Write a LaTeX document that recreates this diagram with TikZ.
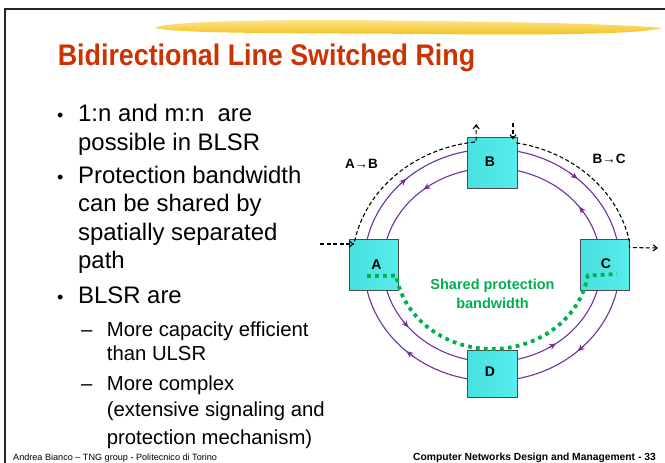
\documentclass[tikz,border=0pt]{standalone}
\usepackage{fontspec}
\setmainfont{Liberation Sans}
\newfontfamily\titlefont{Liberation Sans}[FakeStretch=0.9]
\usetikzlibrary{arrows.meta,calc}
\definecolor{titlered}{HTML}{CC3300}
\definecolor{ringpurple}{HTML}{7030A0}
\definecolor{sharegreen}{HTML}{00B050}
\definecolor{boxcyan}{HTML}{70FFFF}
\definecolor{boxdark}{HTML}{48E0E0}
\definecolor{hlight}{HTML}{FCE488}
\definecolor{hdark}{HTML}{F5BA00}
\begin{document}
\begin{tikzpicture}[x=1pt,y=-1pt,
  bodytxt/.style={anchor=base west, inner sep=0pt, font=\fontsize{23.9}{28}\selectfont},
  subtxt/.style={anchor=base west, inner sep=0pt, font=\fontsize{20.3}{24}\selectfont},
  bul/.style={anchor=base west, inner sep=0pt, font=\fontsize{18}{24}\selectfont},
  nodebox/.style={draw=black!70, line width=0.8pt, minimum width=49pt, minimum height=51pt,
    inner sep=0pt, left color=boxdark, middle color=boxcyan, right color=boxdark!60!boxcyan},
  boxlbl/.style={inner sep=0pt, font=\fontsize{14}{16}\selectfont\bfseries},
  ring/.style={draw=ringpurple, line width=1.1pt},
  rtip/.style={draw=ringpurple, line width=1.1pt, -{Stealth[length=7pt,width=6pt]}},
  dashln/.style={draw=black, line width=1.1pt, dash pattern=on 4pt off 2.5pt},
  dtip/.style={-{Straight Barb[length=4pt,width=6pt]}},
  greendot/.style={draw=sharegreen, line width=3.8pt, dash pattern=on 3.8pt off 4.2pt},
  lbl/.style={inner sep=0pt, font=\fontsize{13.5}{15}\selectfont\bfseries}
]
\useasboundingbox (0,0) rectangle (665,463);
\fill[white] (0,0) rectangle (665,463);
% frame
\draw[black!85, line width=2pt] (5,463) -- (5,9) -- (665,9);
% highlighter stroke
\shade[top color=hlight, bottom color=hdark, opacity=0.9]
  (155,28) .. controls (170,20) and (300,19) .. (430,21)
  .. controls (520,22) and (620,24) .. (662,28)
  .. controls (640,35) and (520,35) .. (430,34)
  .. controls (300,33) and (180,34) .. (155,28) -- cycle;
% title
\node[anchor=base, inner sep=0pt, text=titlered, font=\titlefont\fontsize{29.8}{32}\selectfont\bfseries] (title) at (266.5,65) {Bidirectional Line Switched Ring};
% bullets
\node[bul] (b1) at (57,121.7) {•};
\node[bodytxt] (t1) at (78,121.7) {1:n and m:n\ \ are};
\node[bodytxt] (t2) at (78,150) {possible in BLSR};
\node[bul] (b2) at (57,183.5) {•};
\node[bodytxt] (t3) at (78,183.5) {Protection bandwidth};
\node[bodytxt] (t4) at (78,211.7) {can be shared by};
\node[bodytxt] (t5) at (78,240) {spatially separated};
\node[bodytxt] (t6) at (78,268.3) {path};
\node[bul] (b3) at (57,303.3) {•};
\node[bodytxt] (t7) at (78,303.3) {BLSR are};
\node[subtxt] (d1) at (81,336) {–};
\node[subtxt] (s1) at (106.7,336) {More capacity efficient};
\node[subtxt] (s2) at (106.7,360.5) {than ULSR};
\node[subtxt] (d2) at (81,390) {–};
\node[subtxt] (s3) at (106.7,390) {More complex};
\node[subtxt] (s4) at (106.7,416.7) {(extensive signaling and};
\node[subtxt] (s5) at (106.7,444) {protection mechanism)};
% footer
\node[anchor=base west, inner sep=0pt, font=\fontsize{9.1}{10}\selectfont] (fl) at (13,460.2) {Andrea Bianco – TNG group - Politecnico di Torino};
\node[anchor=base east, inner sep=0pt, font=\fontsize{10.3}{11}\selectfont\bfseries] (fr) at (656,460.2) {Computer Networks Design and Management - 33};
% rings
\draw[ring] plot[domain=0:360, samples=181] ({492+128*cos(\x)},{265+116*sin(\x)}) -- cycle;
\draw[ring] plot[domain=0:360, samples=181] ({492+109*cos(\x)},{265+97*sin(\x)}) -- cycle;
% ring direction tips (outer clockwise, inner counter-clockwise)
\foreach \t in {48,132,228,312}{
  \draw[rtip] ({492+128*cos(\t-4)},{265+116*sin(\t-4)}) -- ({492+128*cos(\t)},{265+116*sin(\t)});
}
\foreach \t in {54,140,231,323}{
  \draw[rtip] ({492+109*cos(\t+4)},{265+97*sin(\t+4)}) -- ({492+109*cos(\t)},{265+97*sin(\t)});
}
% boxes
\node[nodebox] (A) at (374,265) {};
\node[nodebox, minimum width=50pt] (B) at (492,163) {};
\node[nodebox] (C) at (605,265) {};
\node[nodebox, minimum width=50pt, minimum height=47pt] (D) at (492,373.5) {};
\node[boxlbl] (la) at (376.5,264.5) {A};
\node[boxlbl] (lb) at (490,162) {B};
\node[boxlbl] (lc) at (606,264) {C};
\node[boxlbl] (ld) at (490,372) {D};
% dashed paths
\coordinate (inL) at (320,244);
\coordinate (inA) at (354,244);
\coordinate (upB) at (476.2,124);
\coordinate (dnS) at (513,123);
\coordinate (dnE) at (513,139.5);
\coordinate (outC) at (658,248);
\draw[dashln, dtip] (inL) -- (inA);
\draw[dashln, dtip] plot[domain=191:263.5, samples=40] ({492+140*cos(\x)},{265+124*sin(\x)}) -- (upB);
\draw[dashln, dtip] (dnS) -- (dnE);
\draw[dashln, dtip] plot[domain=280:349, samples=40] ({492+140*cos(\x)},{265+124*sin(\x)}) -- (629.4,247.5) -- (outC);
% labels
\node[lbl] (lab1) at (361.5,164) {A→B};
\node[lbl] (lab2) at (609,159) {B→C};
% shared protection
\draw[greendot] (367,276) -- (396,275.6) -- plot[domain=9:171, samples=60] ({492-97*cos(\x)},{262+87*sin(\x)}) -- (617,274);
\node[inner sep=0pt, text=sharegreen, font=\fontsize{14.5}{18.5}\selectfont\bfseries, align=center] (sp) at (492.5,294) {Shared protection\\bandwidth};
\end{tikzpicture}
\end{document}
